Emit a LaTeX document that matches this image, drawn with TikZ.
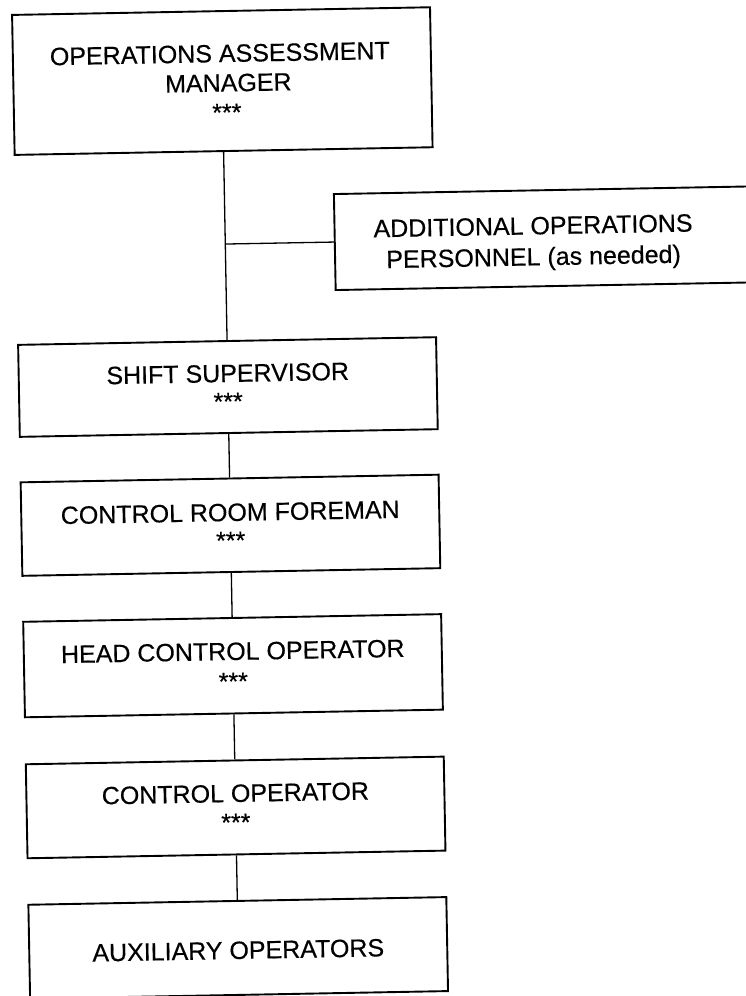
\documentclass[tikz,border=0pt]{standalone}
\usepackage{fontspec}
\setmainfont{Liberation Sans}
\newfontfamily\chartfont{Liberation Sans}[FakeBold=0.35]
\begin{document}
\begin{tikzpicture}[x=1bp,y=-1bp,
  box/.style={draw=black, line width=1.9bp, rectangle, inner sep=0pt,
              minimum width=418bp},
  lbl/.style={anchor=base, inner sep=0pt,
              font=\chartfont\fontsize{25bp}{30bp}\selectfont},
  link/.style={draw=black, line width=1.3bp}]
\fill[white] (0,0) rectangle (746,996);
\clip (0,0) rectangle (746,996);
\begin{scope}[rotate around={1.05:(230,500)}, transform shape]
  % chain of positions, top to bottom
  \node[box, minimum height=140bp] (oam) at (230,81) {};
  \node[box, minimum height=92bp]  (ss)  at (230,387) {};
  \node[box, minimum height=93.5bp] (crf) at (230,525.25) {};
  \node[box, minimum height=95.5bp] (hco) at (230,665.75) {};
  \node[box, minimum height=94bp]  (co)  at (230,807.5) {};
  \node[box, minimum height=94bp]  (aux) at (230,948) {};
  % side box, running off the right edge
  \node[box, minimum width=460.5bp, minimum height=96bp] (add) at (569.75,244) {};

  % titles
  \node[lbl] (oam1) at (228,62)  {OPERATIONS ASSESSMENT};
  \node[lbl] (oam2) at (236,91.5) {MANAGER};
  \node[lbl] (oam3) at (234,121) {***};
  \node[lbl] (add1) at (538,240) {ADDITIONAL OPERATIONS};
  \node[lbl] (add2) at (538,271) {PERSONNEL (as needed)};
  \node[lbl] (ss1)  at (230,382) {SHIFT SUPERVISOR};
  \node[lbl] (ss2)  at (230,410) {***};
  \node[lbl] (crf1) at (230,521) {CONTROL ROOM FOREMAN};
  \node[lbl] (crf2) at (230,549) {***};
  \node[lbl] (hco1) at (230,660) {HEAD CONTROL OPERATOR};
  \node[lbl] (hco2) at (230,690) {***};
  \node[lbl] (co1)  at (230,802) {CONTROL OPERATOR};
  \node[lbl] (co2)  at (230,831) {***};
  \node[lbl] (aux1) at (230,959) {AUXILIARY OPERATORS};

  % reporting lines
  \draw[link] (oam.south) -- (ss.north);
  \draw[link] (add.west) -- (add.west -| oam.south);
  \draw[link] (ss.south) -- (crf.north);
  \draw[link] (crf.south) -- (hco.north);
  \draw[link] (hco.south) -- (co.north);
  \draw[link] (co.south) -- (aux.north);
\end{scope}
\end{tikzpicture}
\end{document}
